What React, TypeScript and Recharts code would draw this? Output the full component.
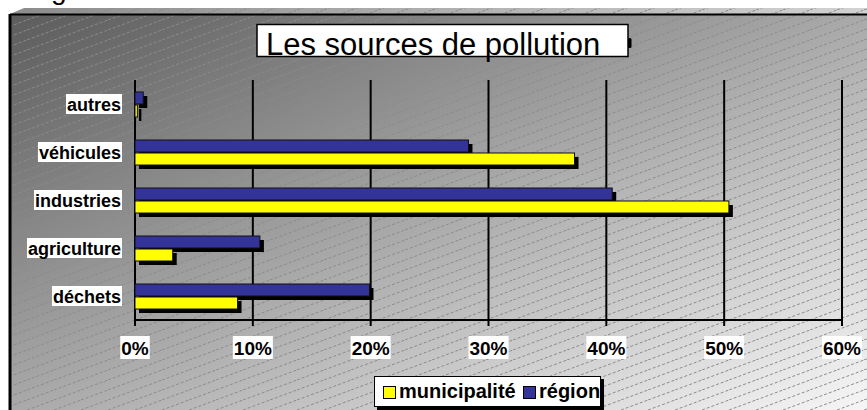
import { Bar, BarChart, CartesianGrid, Legend, XAxis, YAxis } from "recharts";

const categories = ["autres", "véhicules", "industries", "agriculture", "déchets"];
const municipalite = [0.2, 37.3, 50.4, 3.2, 8.7];
const region = [0.7, 28.3, 40.5, 10.6, 19.9];
const xTicks = [0, 10, 20, 30, 40, 50, 60];
const legendOrder = ["municipalite", "region"];

const FONT = "'Liberation Sans', Arial, sans-serif";

const chartData = categories.map((name, i) => ({
    name,
    municipalite: municipalite[i],
    region: region[i],
}));

let ctx: CanvasRenderingContext2D | null = null;
function textWidth(text: string, font: string) {
    if (!ctx) ctx = document.createElement("canvas").getContext("2d");
    if (!ctx) return text.length * 10;
    ctx.font = font;
    return ctx.measureText(text).width;
}

// bar with a hard black drop shadow, like the old office charts
function ShadowBar(props: any) {
    const { x, y, width, height, fill } = props;
    if (width == null || height == null) return null;
    return (
        <g>
            <rect x={x + 4} y={y + 4} width={width} height={height} fill="#000" />
            <rect x={x} y={y} width={width} height={height} fill={fill} stroke="#111" strokeWidth={1} />
        </g>
    );
}

function YTick(props: any) {
    const { x, y, payload } = props;
    const label = String(payload.value);
    const w = textWidth(label, `bold 18px ${FONT}`);
    return (
        <g>
            <rect x={x - w - 1} y={y - 10} width={w + 2} height={20} fill="#fff" />
            <text x={x} y={y + 6.5} textAnchor="end" fontSize={18} fontWeight="bold" fontFamily={FONT} fill="#000">
                {label}
            </text>
        </g>
    );
}

function XTick(props: any) {
    const { x, y, payload } = props;
    const label = `${payload.value}%`;
    const w = textWidth(label, `bold 19px ${FONT}`);
    return (
        <g>
            <rect x={x - w / 2 - 1} y={y + 8} width={w + 2} height={23} fill="#fff" />
            <text x={x} y={y + 27} textAnchor="middle" fontSize={19} fontWeight="bold" fontFamily={FONT} fill="#000">
                {label}
            </text>
        </g>
    );
}

function LegendBox(props: any) {
    const payload: any[] = props.payload || [];
    const items = legendOrder.map(k => payload.find(p => p.dataKey === k)).filter(Boolean);
    const pos = [8, 148];
    return (
        <div style={{
            position: "relative", width: 225, height: 29, background: "#fff",
            border: "1px solid #000", boxShadow: "3px 3px 0 #000", fontFamily: FONT,
        }}>
            {items.map((it: any, i: number) => (
                <div key={it.dataKey}>
                    <div style={{
                        position: "absolute", left: pos[i], top: 9, width: 11, height: 11,
                        background: it.color, border: "1px solid #000",
                    }} />
                    <span style={{
                        position: "absolute", left: pos[i] + 16, top: 4, lineHeight: "20px",
                        fontSize: 20, fontWeight: "bold", color: "#000", whiteSpace: "nowrap",
                    }}>{it.value}</span>
                </div>
            ))}
        </div>
    );
}

export default function App() {
    return (
        <div style={{ position: "relative", width: 867, height: 410, overflow: "hidden" }}>
            <style>{"body{margin:0}"}</style>
            <svg width={867} height={410} style={{ position: "absolute", left: 0, top: 0 }}>
                <defs>
                    <linearGradient id="bg" x1="0" y1="0" x2="1" y2="1">
                        <stop offset="0%" stopColor="#5c5c5c" />
                        <stop offset="100%" stopColor="#f6f6f6" />
                    </linearGradient>
                    <linearGradient id="bevel" x1="0" y1="0" x2="1" y2="0">
                        <stop offset="0%" stopColor="#8c8c8c" />
                        <stop offset="100%" stopColor="#d2d2d2" />
                    </linearGradient>
                    <pattern id="hatch" width={27} height={10} patternUnits="userSpaceOnUse">
                        <line x1={0} y1={10} x2={27} y2={0} stroke="#8a8a8a" strokeWidth={1} strokeDasharray="3 2" />
                    </pattern>
                </defs>
                <text x={51} y={-1} fontSize={28} fontFamily={FONT} fill="#000">g</text>
                <polygon points="10,14 24,8 867,8 867,14" fill="url(#bevel)" />
                <rect x={10} y={14} width={857} height={396} fill="url(#bg)" />
                <rect x={10} y={8} width={857} height={402} fill="url(#hatch)" />
                <line x1={10} y1={14.5} x2={867} y2={14.5} stroke="#000" strokeWidth={2} />
                <line x1={10} y1={14} x2={10} y2={410} stroke="#000" strokeWidth={3} />
                <rect x={628} y={38} width={3.5} height={10} rx={1.5} fill="#000" />
                <rect x={257} y={24.5} width={371} height={32} fill="#fff" stroke="#000" strokeWidth={1.5} />
                <text x={266} y={54.5} fontSize={31} fontFamily={FONT} fill="#000">Les sources de pollution</text>
            </svg>
            <div style={{ position: "absolute", left: 0, top: 0 }}>
                <BarChart width={867} height={410} data={chartData} layout="vertical"
                    margin={{ top: 80, right: 25, bottom: 50, left: 10 }} barSize={12} barGap={1}>
                    <CartesianGrid horizontal={false} stroke="#000" strokeWidth={2} />
                    <XAxis type="number" domain={[0, 60]} ticks={xTicks} interval={0} height={40}
                        axisLine={{ stroke: "#000", strokeWidth: 2 }} tickLine={{ stroke: "#000", strokeWidth: 2 }}
                        tickSize={6} tick={<XTick />} />
                    <YAxis type="category" dataKey="name" width={125} interval={0}
                        axisLine={false} tickLine={false} tickSize={0} tickMargin={14} tick={<YTick />} />
                    <Bar dataKey="region" name="région" fill="#333399" shape={ShadowBar} isAnimationActive={false} />
                    <Bar dataKey="municipalite" name="municipalité" fill="#ffff00" shape={ShadowBar} isAnimationActive={false} />
                    <Legend verticalAlign="middle" align="center" content={LegendBox}
                        wrapperStyle={{ left: 374, top: 376, width: 230, height: 34 }} />
                </BarChart>
            </div>
        </div>
    );
}
